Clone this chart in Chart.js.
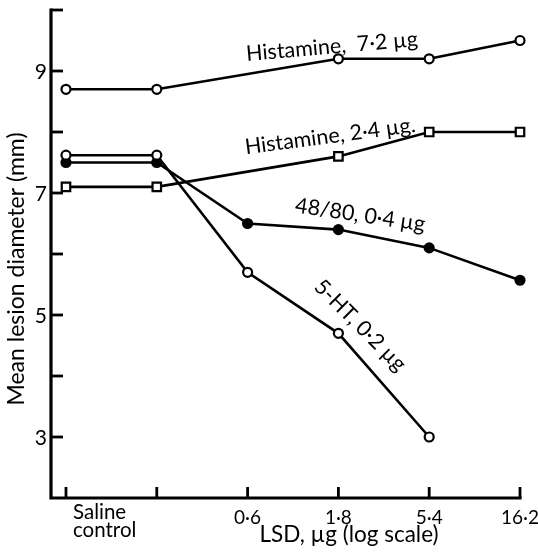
<!DOCTYPE html>
<html>
<head>
<meta charset="utf-8">
<script src="https://cdn.jsdelivr.net/npm/chart.js@4/dist/chart.umd.min.js"></script>
<style>
  html, body { margin: 0; padding: 0; background: #fff; }
  canvas { display: block; }
</style>
</head>
<body>
<canvas id="lesionChart" width="538" height="553"></canvas>
<script>
// LSD dose positions (log scale, saline control at 0)
const xPositions = [0, 1, 2, 3, 4, 5];
const xTickLabels = [['Saline', 'control'], '', '0·6', '1·8', '5·4', '16·2'];
const yTickValues = [3, 4, 5, 6, 7, 8, 9, 10];
const yTickLabels = { 3: '3', 5: '5', 7: '7', 9: '9' };

// mean lesion diameter (mm)
const histamine72 = [8.7, 8.7, null, 9.2, 9.2, 9.5];
const histamine24 = [7.1, 7.1, null, 7.6, 8.0, 8.0];
const c4880 = [7.5, 7.5, 6.5, 6.4, 6.1, 5.57];
const serotonin = [7.62, 7.62, 5.7, 4.7, 3.0, null];

const seriesNames = ['Histamine,  7·2 µg', 'Histamine, 2·4 µg.', '48/80, 0·4 µg', '5-HT, 0·2 µg'];
// where each curve's name sits (data coords) and its slant in degrees
const nameSpots = [
  { x: 2.93, y: 9.40, angle: -5 },
  { x: 2.91, y: 7.93, angle: -7.5 },
  { x: 3.24, y: 6.64, angle: 8.5 },
  { x: 3.24, y: 4.83, angle: 45 }
];

const FONT = 'Lato, "DejaVu Sans", sans-serif';

function toPoints(values) {
  return xPositions.map((x, i) => ({ x: x, y: values[i] }));
}

const axesPlugin = {
  id: 'axesPlugin',
  afterDraw(chart) {
    const ctx = chart.ctx;
    const xs = chart.scales.x;
    const ys = chart.scales.y;
    const area = chart.chartArea;
    ctx.save();
    ctx.strokeStyle = '#000';
    ctx.fillStyle = '#000';
    ctx.lineCap = 'square';

    // axis lines
    ctx.lineWidth = 3.2;
    ctx.beginPath();
    ctx.moveTo(area.left, area.top);
    ctx.lineTo(area.left, area.bottom);
    ctx.lineTo(xs.getPixelForValue(5), area.bottom);
    ctx.stroke();

    // inward ticks
    ctx.lineWidth = 2.8;
    ctx.lineCap = 'butt';
    yTickValues.forEach(v => {
      const py = ys.getPixelForValue(v);
      ctx.beginPath();
      ctx.moveTo(area.left, py);
      ctx.lineTo(area.left + 12, py);
      ctx.stroke();
    });
    xPositions.forEach(v => {
      const px = xs.getPixelForValue(v);
      ctx.beginPath();
      ctx.moveTo(px, area.bottom);
      ctx.lineTo(px, area.bottom - 11);
      ctx.stroke();
    });

    // y tick labels
    ctx.font = '21px ' + FONT;
    ctx.textAlign = 'right';
    ctx.textBaseline = 'middle';
    Object.keys(yTickLabels).forEach(k => {
      ctx.fillText(yTickLabels[k], area.left - 4, ys.getPixelForValue(+k) + 1);
    });

    // x tick labels
    ctx.textBaseline = 'alphabetic';
    xTickLabels.forEach((lab, i) => {
      const px = xs.getPixelForValue(xPositions[i]);
      if (Array.isArray(lab)) {
        ctx.font = '20.5px ' + FONT;
        ctx.textAlign = 'left';
        lab.forEach((line, j) => ctx.fillText(line, px + 7, area.bottom + 21 + j * 18));
      } else if (lab) {
        ctx.font = '19px ' + FONT;
        ctx.textAlign = 'center';
        ctx.fillText(lab, px, area.bottom + 26);
      }
    });

    // axis titles
    ctx.font = '22.5px ' + FONT;
    ctx.textAlign = 'center';
    ctx.fillText('LSD, µg (log scale)', 349, area.bottom + 44);
    ctx.save();
    ctx.translate(17, 269);
    ctx.rotate(-Math.PI / 2);
    ctx.textBaseline = 'middle';
    ctx.font = '23px ' + FONT;
    ctx.fillText('Mean lesion diameter (mm)', 0, 0);
    ctx.restore();

    // curve names
    ctx.font = '21.5px ' + FONT;
    ctx.textBaseline = 'middle';
    seriesNames.forEach((name, i) => {
      const s = nameSpots[i];
      ctx.save();
      ctx.translate(xs.getPixelForValue(s.x), ys.getPixelForValue(s.y));
      ctx.rotate(s.angle * Math.PI / 180);
      ctx.fillText(name, 0, 0);
      ctx.restore();
    });
    ctx.restore();
  }
};

const base = {
  borderColor: '#000',
  borderWidth: 2.6,
  pointBorderColor: '#000',
  pointBorderWidth: 2.2,
  spanGaps: true,
  clip: false,
  tension: 0
};

new Chart(document.getElementById('lesionChart').getContext('2d'), {
  type: 'line',
  data: {
    datasets: [
      Object.assign({}, base, { label: seriesNames[0], data: toPoints(histamine72), pointStyle: 'circle', pointRadius: 4.5, pointBackgroundColor: '#fff' }),
      Object.assign({}, base, { label: seriesNames[1], data: toPoints(histamine24), pointStyle: 'rect', pointRadius: 6, pointBackgroundColor: '#fff' }),
      Object.assign({}, base, { label: seriesNames[3], data: toPoints(serotonin), pointStyle: 'circle', pointRadius: 4.5, pointBackgroundColor: '#fff' }),
      Object.assign({}, base, { label: seriesNames[2], data: toPoints(c4880), pointStyle: 'circle', pointRadius: 4.5, pointBackgroundColor: '#000' })
    ]
  },
  options: {
    responsive: false,
    animation: false,
    layout: { padding: { left: 51, right: 18, top: 10, bottom: 55 } },
    scales: {
      x: { type: 'linear', min: -0.165, max: 5, display: false },
      y: { type: 'linear', min: 2, max: 10, display: false }
    },
    plugins: {
      legend: { display: false },
      tooltip: { enabled: false }
    }
  },
  plugins: [axesPlugin]
});
</script>
</body>
</html>
